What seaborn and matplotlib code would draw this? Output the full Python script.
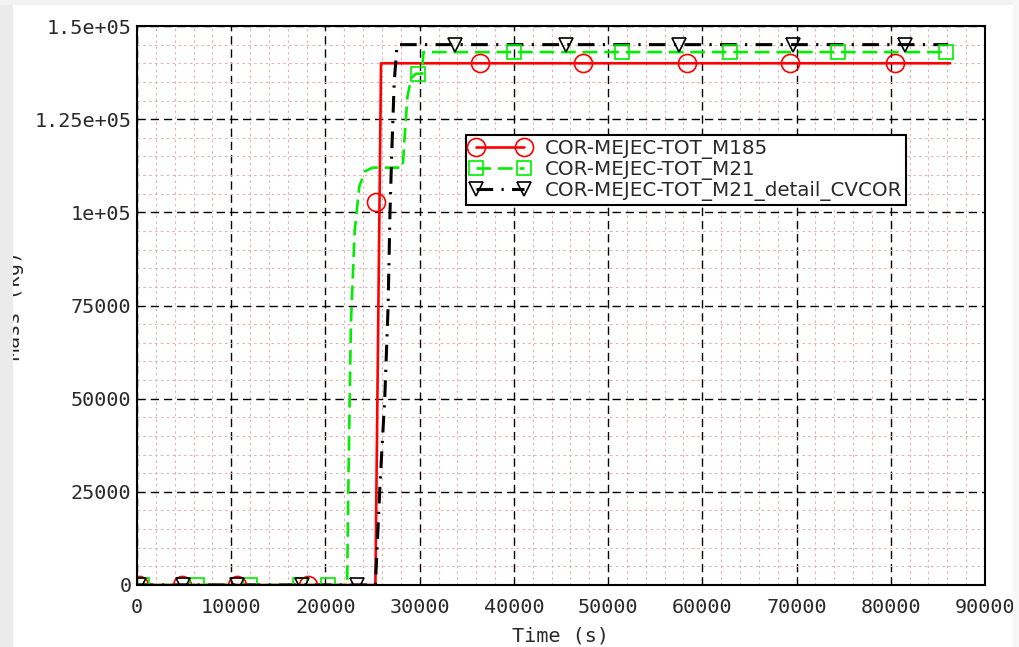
import matplotlib
matplotlib.use("Agg")
import matplotlib.pyplot as plt
from matplotlib.lines import Line2D
from matplotlib.patches import Rectangle
from matplotlib.ticker import MultipleLocator
import seaborn as sns
import pandas as pd

# ---- data ----
series_names = ["COR-MEJEC-TOT_M185", "COR-MEJEC-TOT_M21", "COR-MEJEC-TOT_M21_detail_CVCOR"]

m185_time = [0, 25300, 25900, 86300]
m185_mass = [0, 0, 140000, 140000]
m185_mark_time = [200, 4800, 10600, 18200, 25400, 36400, 47300, 58400, 69300, 80500]
m185_mark_mass = [0, 0, 0, 0, 102700, 140000, 140000, 140000, 140000, 140000]

m21_time = [0, 22300, 22450, 22700, 23100, 23600, 24200, 25000, 28200, 28450, 28700,
            29100, 29600, 30250, 30400, 86000]
m21_mass = [0, 0, 30000, 70000, 95000, 107000, 111000, 112000, 112000, 122000, 131000,
            136000, 137200, 137200, 143000, 143000]
m21_mark_time = [500, 6400, 12000, 17300, 20300, 29800, 40000, 51500, 62950, 74400, 85850]
m21_mark_mass = [0, 0, 0, 0, 0, 137200, 143000, 143000, 143000, 143000, 143000]

cvcor_time = [0, 25300, 25800, 26300, 26650, 26850, 27050, 27300, 27600, 86100]
cvcor_mass = [0, 0, 27400, 50500, 74700, 100000, 117000, 135000, 145000, 145000]
cvcor_mark_time = [200, 4900, 10600, 17500, 23400, 33750, 45550, 57500, 69600, 81500]
cvcor_mark_mass = [0, 0, 0, 0, 0, 145000, 145000, 145000, 145000, 145000]

x_ticks = [0, 10000, 20000, 30000, 40000, 50000, 60000, 70000, 80000, 90000]
y_ticks = [0, 25000, 50000, 75000, 100000, 125000, 150000]
y_tick_labels = ["0", "25000", "50000", "75000", "1e+05", "1.25e+05", "1.5e+05"]

# ---- style ----
sns.set_theme(style="white")
plt.rcParams["font.family"] = ["DejaVu Sans Mono", "DejaVu Sans"]
plt.rcParams["lines.scale_dashes"] = False

W, H = 1019, 647
fig = plt.figure(figsize=(W / 100, H / 100), dpi=100, facecolor="white")
ax = fig.add_axes([137 / W, (H - 585) / H, (985 - 137) / W, (585 - 26) / H])
ax.set_facecolor("white")

styles = [
    dict(color="#ff0000", lw=1.9, marker="o", ms=13, dashes=None),
    dict(color="#00ee00", lw=1.9, marker="s", ms=10, dashes=(10.5, 5.0)),
    dict(color="black", lw=2.2, marker="v", ms=10.5, dashes=(12, 6, 1.6, 6)),
]
lines_data = [(m185_time, m185_mass), (m21_time, m21_mass), (cvcor_time, cvcor_mass)]
marks_data = [(m185_mark_time, m185_mark_mass), (m21_mark_time, m21_mark_mass),
              (cvcor_mark_time, cvcor_mark_mass)]

for (t, m), (mt, mm), st in zip(lines_data, marks_data, styles):
    df = pd.DataFrame({"t": t, "m": m})
    sns.lineplot(data=df, x="t", y="m", ax=ax, sort=False, estimator=None,
                 color=st["color"], lw=st["lw"])
    ln = ax.lines[-1]
    if st["dashes"] is not None:
        ln.set_dashes(st["dashes"])
    ln.set_zorder(3)
    dfm = pd.DataFrame({"t": mt, "m": mm})
    sns.lineplot(data=dfm, x="t", y="m", ax=ax, sort=False, estimator=None,
                 linestyle="", marker=st["marker"], markersize=st["ms"],
                 markerfacecolor="none", markeredgecolor=st["color"], markeredgewidth=1.2,
                 color=st["color"])
    ax.lines[-1].set_zorder(4)

ax.set_xlim(0, 90000)
ax.set_ylim(0, 150000)
ax.set_xticks(x_ticks)
ax.set_yticks(y_ticks)
ax.set_yticklabels(y_tick_labels)
ax.set_xticklabels([str(v) for v in x_ticks])
ax.xaxis.set_minor_locator(MultipleLocator(2000))
ax.yaxis.set_minor_locator(MultipleLocator(5000))

ax.grid(which="minor", color="#dcb4b4", lw=0.8, dashes=(1.8, 2.4))
ax.grid(which="major", color="black", lw=1.0, dashes=(6, 3.5))
ax.set_axisbelow(True)
for gl in ax.get_xgridlines() + ax.get_ygridlines():
    gl.set_zorder(1)

for sp in ax.spines.values():
    sp.set_visible(True)
    sp.set_color("black")
    sp.set_linewidth(1.5)
    sp.set_zorder(5)

ax.tick_params(axis="both", which="both", length=0, labelsize=14.5, labelcolor="#2a2a2a")
ax.tick_params(axis="x", pad=9.5)
ax.tick_params(axis="y", pad=4)

ax.set_xlabel("Time (s)", fontsize=14.5, color="#2a2a2a", labelpad=6.5)
ax.set_ylabel("Mass (kg)", fontsize=14.5, color="#2a2a2a")
ax.yaxis.set_label_coords((24 - 137) / 848, 0.5)

handles = []
for st in styles:
    h = Line2D([], [], color=st["color"], lw=st["lw"], marker=st["marker"],
               markersize=st["ms"], markerfacecolor="none", markeredgecolor=st["color"],
               markeredgewidth=1.2)
    if st["dashes"] is not None:
        h.set_dashes(st["dashes"])
    handles.append(h)

leg = ax.legend(handles, series_names, loc="upper left",
                bbox_to_anchor=((466 - 137) / 848, (585 - 135) / 559),
                borderaxespad=0, numpoints=2, handlelength=3.0, handletextpad=0.75,
                labelspacing=0.05, borderpad=0.2, fancybox=False, framealpha=1,
                edgecolor="black", prop={"family": "DejaVu Sans", "size": 14.3})
leg.get_frame().set_linewidth(1.5)
leg.set_zorder(6)
for txt in leg.get_texts():
    txt.set_color("#2a2a2a")

# grey page margins of the screenshot
fig.add_artist(Rectangle((0, 0), 13 / W, 1, transform=fig.transFigure,
                         facecolor="#ebebeb", edgecolor="none", zorder=10))
fig.add_artist(Rectangle((0, 1 - 5 / H), 1, 5 / H, transform=fig.transFigure,
                         facecolor="#f3f3f3", edgecolor="none", zorder=10))
fig.add_artist(Rectangle((1 - 6 / W, 0), 6 / W, 1, transform=fig.transFigure,
                         facecolor="#f6f6f6", edgecolor="none", zorder=10))

fig.savefig("out.png", dpi=100)
